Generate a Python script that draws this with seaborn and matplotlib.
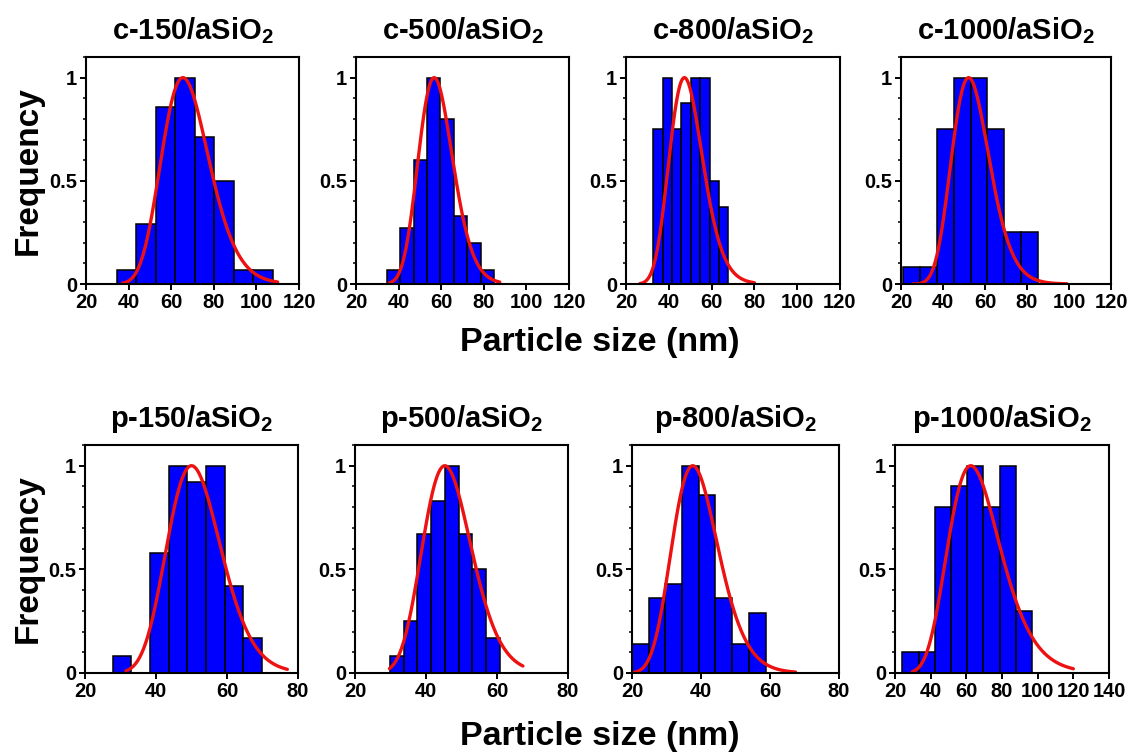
import numpy as np
import pandas as pd
import matplotlib
matplotlib.use("Agg")
import matplotlib.pyplot as plt
from matplotlib.ticker import MultipleLocator, FixedLocator, FixedFormatter
import seaborn as sns

# ---- size distributions (frequency normalised to the most populated bin) ----
samples = ["c-150", "c-500", "c-800", "c-1000", "p-150", "p-500", "p-800", "p-1000"]

bin_start = [34.5, 34.4, 32.8, 21.0, 27.8, 29.8, 20.0, 24.1]
bin_width = [9.15, 6.30, 4.375, 8.03, 5.26, 3.875, 4.84, 9.10]

freq_c150 = [0.07, 0.29, 0.86, 1.00, 0.71, 0.50, 0.07, 0.07]
freq_c500 = [0.07, 0.27, 0.60, 1.00, 0.80, 0.33, 0.20, 0.07]
freq_c800 = [0.75, 1.00, 0.75, 0.875, 1.00, 1.00, 0.50, 0.375]
freq_c1000 = [0.08, 0.08, 0.75, 1.00, 1.00, 0.75, 0.25, 0.25]
freq_p150 = [0.08, 0.00, 0.58, 1.00, 0.92, 1.00, 0.42, 0.17]
freq_p500 = [0.08, 0.25, 0.67, 0.83, 1.00, 0.67, 0.50, 0.17]
freq_p800 = [0.14, 0.36, 0.43, 1.00, 0.86, 0.36, 0.14, 0.29]
freq_p1000 = [0.10, 0.10, 0.80, 0.90, 1.00, 0.80, 1.00, 0.30]

# log-normal fit of each distribution: mode (nm), log-width, plotted range (nm)
fit_mode = [65.5, 56.7, 47.3, 52.2, 50.0, 45.3, 37.6, 62.5]
fit_sigma = [0.170, 0.142, 0.165, 0.172, 0.152, 0.152, 0.178, 0.234]
fit_lo = [37.0, 35.5, 26.5, 25.5, 31.5, 29.7, 19.5, 29.7]
fit_hi = [110.0, 87.5, 80.0, 99.0, 77.0, 67.3, 67.4, 120.0]

x_max = [120, 120, 120, 120, 80, 80, 80, 140]
y_ticks = [0, 0.5, 1]
y_tick_labels = ["0", "0.5", "1"]

freqs = [freq_c150, freq_c500, freq_c800, freq_c1000,
         freq_p150, freq_p500, freq_p800, freq_p1000]

# ---- style ----
sns.set_style("ticks")
plt.rcParams["font.family"] = ["Liberation Sans", "DejaVu Sans"]
plt.rcParams["font.weight"] = "bold"
plt.rcParams["text.color"] = "black"
plt.rcParams["axes.labelcolor"] = "black"
plt.rcParams["xtick.color"] = "black"
plt.rcParams["ytick.color"] = "black"
plt.rcParams["mathtext.fontset"] = "custom"
plt.rcParams["mathtext.rm"] = "Liberation Sans:bold"
plt.rcParams["mathtext.bf"] = "Liberation Sans:bold"
plt.rcParams["mathtext.default"] = "bf"

W, H = 1130, 752
fig = plt.figure(figsize=(W / 100, H / 100), dpi=100)
fig.patch.set_facecolor("white")

# panel frames in pixels: left, top, right, bottom
frames = [
    (86, 57, 299, 284), (356, 57, 569, 284), (626, 57, 840, 284), (901, 57, 1111, 284),
    (85, 445, 298, 673), (355, 445, 568, 673), (632, 445, 839, 673), (895, 445, 1109, 673),
]

BLUE = "#0000FF"
RED = "#EE1111"

for i, name in enumerate(samples):
    l, t, r, b = frames[i]
    ax = fig.add_axes([l / W, 1 - b / H, (r - l) / W, (b - t) / H])
    ax.set_facecolor("white")

    edges = [bin_start[i] + bin_width[i] * k for k in range(len(freqs[i]) + 1)]
    centers = [e + bin_width[i] / 2 for e in edges[:-1]]
    hist_df = pd.DataFrame({"size": centers, "freq": freqs[i]})
    sns.histplot(data=hist_df, x="size", weights="freq", bins=edges, ax=ax,
                 color=BLUE, alpha=1, edgecolor="black", linewidth=1.1)

    xs = np.linspace(fit_lo[i], fit_hi[i], 400)
    ys = np.exp(-np.log(xs / fit_mode[i]) ** 2 / (2 * fit_sigma[i] ** 2))
    fit_df = pd.DataFrame({"size": xs, "fit": ys})
    sns.lineplot(data=fit_df, x="size", y="fit", ax=ax, color=RED,
                 linewidth=2.4, estimator=None, sort=False)

    ax.set_xlim(20, x_max[i])
    ax.set_ylim(0, 1.1)
    ax.xaxis.set_major_locator(FixedLocator(list(range(20, x_max[i] + 1, 20))))
    ax.yaxis.set_major_locator(FixedLocator(y_ticks))
    ax.yaxis.set_major_formatter(FixedFormatter(y_tick_labels))
    ax.yaxis.set_minor_locator(MultipleLocator(0.1))
    ax.set_xlabel("")
    ax.set_ylabel("")

    for sp in ax.spines.values():
        sp.set_visible(True)
        sp.set_color("black")
        sp.set_linewidth(1.5)
    ax.tick_params(axis="both", which="major", direction="out", length=4,
                   width=1.4, color="black", labelcolor="black",
                   labelsize=14.5, pad=2.5)
    ax.tick_params(axis="y", which="minor", direction="out", length=2.2,
                   width=1.1, color="black")
    for lab in ax.get_xticklabels() + ax.get_yticklabels():
        lab.set_fontweight("bold")

    ax.set_title(name + "/aSiO$_2$", fontsize=21, fontweight="bold", pad=13,
                 color="black")

# shared axis labels for each row
for yc in (170.5, 559):
    fig.text(28 / W, 1 - yc / H, "Frequency", rotation=90, ha="center",
             va="center", fontsize=24, fontweight="bold", color="black")
for yc in (342, 736):
    fig.text(600 / W, 1 - yc / H, "Particle size (nm)", ha="center",
             va="center", fontsize=24.5, fontweight="bold", color="black")

fig.savefig("out.png", dpi=100)
